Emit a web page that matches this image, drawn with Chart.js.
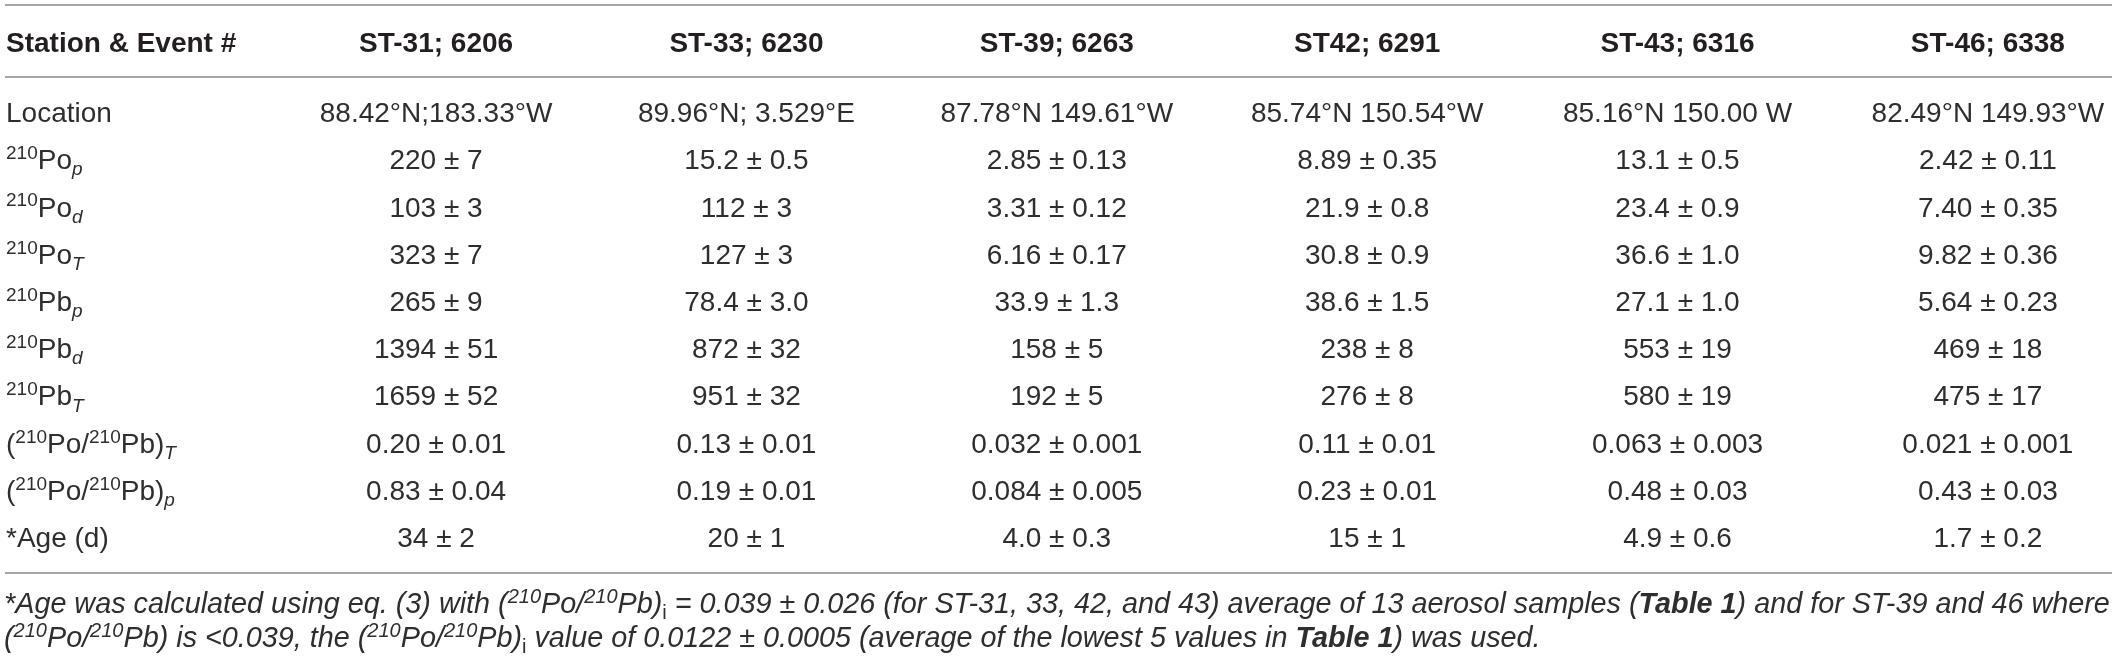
<!DOCTYPE html>
<html>
<head>
<meta charset="utf-8">
<script src="https://cdn.jsdelivr.net/npm/chart.js@4.4.1/dist/chart.umd.min.js"></script>
<style>
  html, body { margin: 0; padding: 0; background: #fff; }
  #wrap { width: 2117px; height: 665px; }
</style>
</head>
<body>
<div id="wrap"><canvas id="tableChart" width="2117" height="665"></canvas></div>
<script>
const headerLabel = 'Station & Event #';
const stations = ['ST-31; 6206', 'ST-33; 6230', 'ST-39; 6263', 'ST42; 6291', 'ST-43; 6316', 'ST-46; 6338'];

// row labels: ^{..} superscript, _{..} italic subscript
const rowLabels = [
  'Location',
  '^{210}Po_{p}',
  '^{210}Po_{d}',
  '^{210}Po_{T}',
  '^{210}Pb_{p}',
  '^{210}Pb_{d}',
  '^{210}Pb_{T}',
  '(^{210}Po/^{210}Pb)_{T}',
  '(^{210}Po/^{210}Pb)_{p}',
  '*Age (d)'
];

const locations = ['88.42°N;183.33°W', '89.96°N; 3.529°E', '87.78°N 149.61°W', '85.74°N 150.54°W', '85.16°N 150.00 W', '82.49°N 149.93°W'];
const po210p = ['220 ± 7', '15.2 ± 0.5', '2.85 ± 0.13', '8.89 ± 0.35', '13.1 ± 0.5', '2.42 ± 0.11'];
const po210d = ['103 ± 3', '112 ± 3', '3.31 ± 0.12', '21.9 ± 0.8', '23.4 ± 0.9', '7.40 ± 0.35'];
const po210T = ['323 ± 7', '127 ± 3', '6.16 ± 0.17', '30.8 ± 0.9', '36.6 ± 1.0', '9.82 ± 0.36'];
const pb210p = ['265 ± 9', '78.4 ± 3.0', '33.9 ± 1.3', '38.6 ± 1.5', '27.1 ± 1.0', '5.64 ± 0.23'];
const pb210d = ['1394 ± 51', '872 ± 32', '158 ± 5', '238 ± 8', '553 ± 19', '469 ± 18'];
const pb210T = ['1659 ± 52', '951 ± 32', '192 ± 5', '276 ± 8', '580 ± 19', '475 ± 17'];
const ratioT = ['0.20 ± 0.01', '0.13 ± 0.01', '0.032 ± 0.001', '0.11 ± 0.01', '0.063 ± 0.003', '0.021 ± 0.001'];
const ratioP = ['0.83 ± 0.04', '0.19 ± 0.01', '0.084 ± 0.005', '0.23 ± 0.01', '0.48 ± 0.03', '0.43 ± 0.03'];
const ageDays = ['34 ± 2', '20 ± 1', '4.0 ± 0.3', '15 ± 1', '4.9 ± 0.6', '1.7 ± 0.2'];

const rows = [locations, po210p, po210d, po210T, pb210p, pb210d, pb210T, ratioT, ratioP, ageDays];

// **..** bold inside the (italic) footnote
const footnoteLines = [
  '*Age was calculated using eq. (3) with (^{210}Po/^{210}Pb)_{i} = 0.039 ± 0.026 (for ST-31, 33, 42, and 43) average of 13 aerosol samples (**Table 1**) and for ST-39 and 46 where',
  '(^{210}Po/^{210}Pb) is <0.039, the (^{210}Po/^{210}Pb)_{i} value of 0.0122 ± 0.0005 (average of the lowest 5 values in **Table 1**) was used.'
];

// --- look ---
const FAMILY = '"Liberation Sans", Arial, Helvetica, sans-serif';
const HEAD_COLOR = '#231f20';
const TEXT_COLOR = '#2e2e2e';
const RULE_COLOR = '#a6a6a6';
const BODY_SIZE = 28;

// split a marked-up string into styled pieces
function parseRich(str) {
    const segs = [];
    let bold = false, buf = '', i = 0;
    const flush = () => { if (buf) { segs.push({ text: buf, kind: 'n', bold }); buf = ''; } };
    while (i < str.length) {
        if ((str[i] === '^' || str[i] === '_') && str[i + 1] === '{') {
            flush();
            const end = str.indexOf('}', i);
            segs.push({ text: str.slice(i + 2, end), kind: str[i] === '^' ? 'sup' : 'sub', bold });
            i = end + 1;
        } else if (str[i] === '*' && str[i + 1] === '*') {
            flush();
            bold = !bold;
            i += 2;
        } else {
            buf += str[i];
            i++;
        }
    }
    flush();
    return segs;
}

// table subscripts are italic; in the italic footnote the subscript stays upright
function segFont(seg, size, italicAll) {
    const small = seg.kind !== 'n';
    const italic = italicAll ? seg.kind !== 'sub' : seg.kind === 'sub';
    return (italic ? 'italic ' : '') + (seg.bold ? 'bold ' : '') + (small ? Math.round(size * 0.68) : size) + 'px ' + FAMILY;
}

function richWidth(ctx, segs, size, italicAll) {
    let w = 0;
    segs.forEach(s => { ctx.font = segFont(s, size, italicAll); w += ctx.measureText(s.text).width; });
    return w;
}

// draw marked-up text with its baseline at y
function drawRich(ctx, str, x, y, align, size, italicAll) {
    const segs = parseRich(str);
    let cx = x;
    if (align === 'center') cx = x - richWidth(ctx, segs, size, italicAll) / 2;
    ctx.textAlign = 'left';
    ctx.textBaseline = 'alphabetic';
    segs.forEach(s => {
        ctx.font = segFont(s, size, italicAll);
        let dy = 0;
        if (s.kind === 'sup') dy = -size * 0.36;
        if (s.kind === 'sub') dy = size * 0.22;
        ctx.fillText(s.text, cx, y + dy);
        cx += ctx.measureText(s.text).width;
    });
}

// each station column is one dataset, each row one point
const datasets = stations.map((name, ci) => ({
    label: name,
    data: rows.map((row, ri) => ({ x: ci, y: ri, cell: row[ci] })),
    pointRadius: 0,
    pointHoverRadius: 0
}));

const tablePlugin = {
    id: 'tableText',
    afterDatasetsDraw(chart) {
        const { ctx, chartArea, scales: { x, y } } = chart;
        const capShift = BODY_SIZE * 0.36;
        ctx.save();

        // horizontal rules
        ctx.strokeStyle = RULE_COLOR;
        ctx.lineWidth = 2;
        [5, 77, 573].forEach(py => {
            ctx.beginPath();
            ctx.moveTo(chartArea.left + 5, py);
            ctx.lineTo(chartArea.right - 5, py);
            ctx.stroke();
        });

        // header row
        const headBase = 42 + capShift;
        ctx.fillStyle = HEAD_COLOR;
        ctx.font = 'bold ' + BODY_SIZE + 'px ' + FAMILY;
        ctx.textBaseline = 'alphabetic';
        ctx.textAlign = 'left';
        ctx.fillText(headerLabel, chartArea.left + 6, headBase);
        ctx.textAlign = 'center';
        stations.forEach((s, ci) => ctx.fillText(s, x.getPixelForValue(ci), headBase));

        // row labels
        ctx.fillStyle = TEXT_COLOR;
        rowLabels.forEach((lab, ri) => {
            drawRich(ctx, lab, chartArea.left + 6, y.getPixelForValue(ri) + capShift, 'left', BODY_SIZE, false);
        });

        // body cells
        chart.data.datasets.forEach((ds, di) => {
            const meta = chart.getDatasetMeta(di);
            meta.data.forEach((pt, pi) => {
                ctx.font = BODY_SIZE + 'px ' + FAMILY;
                ctx.textAlign = 'center';
                ctx.fillText(ds.data[pi].cell, pt.x, pt.y + capShift);
            });
        });

        // footnote, sized so the first line fills the width like the original
        let fs = 26;
        const w0 = richWidth(ctx, parseRich(footnoteLines[0]), fs, true);
        fs = Math.max(20, Math.min(30, fs * (chartArea.width - 10) / w0));
        drawRich(ctx, footnoteLines[0], chartArea.left + 4, 613, 'left', fs, true);
        drawRich(ctx, footnoteLines[1], chartArea.left + 4, 647, 'left', fs, true);
        ctx.restore();
    }
};

new Chart(document.getElementById('tableChart'), {
    type: 'scatter',
    data: { datasets },
    options: {
        responsive: false,
        animation: false,
        devicePixelRatio: 1,
        layout: { padding: 0 },
        plugins: { legend: { display: false }, tooltip: { enabled: false } },
        scales: {
            // column centres 436 .. 1988 px, rows 112 .. 537 px
            x: { type: 'linear', display: false, min: -1.405, max: 5.416 },
            y: { type: 'linear', display: false, reverse: true, min: -2.372, max: 11.71 }
        }
    },
    plugins: [tablePlugin]
});
</script>
</body>
</html>
